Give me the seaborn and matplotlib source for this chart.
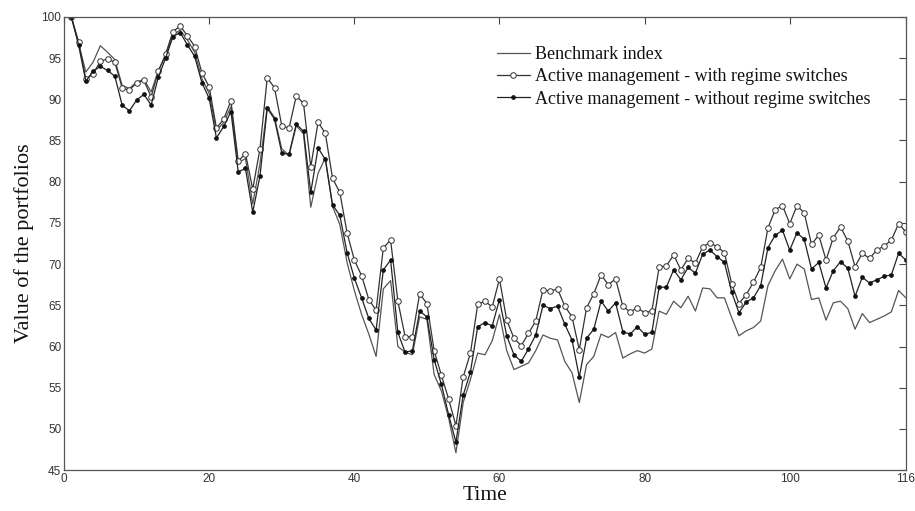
import numpy as np
import matplotlib
matplotlib.use("Agg")
import matplotlib.pyplot as plt
import seaborn as sns

# Donnees (t = 1..116)
time = list(range(1, 117))

benchmark = [
    100, 96.8, 93.3, 94.5, 96.5, 95.7, 94.8, 91.7, 91.3, 92.1,
    92.4, 90.9, 93.5, 95.3, 97.8, 98.4, 97.2, 95.7, 92.5, 90.7,
    86.2, 87.2, 89.1, 82.3, 82.8, 77.3, 82.2, 89.1, 87.8, 84.0,
    83.2, 86.8, 85.8, 76.9, 81.0, 82.9, 77.0, 74.8, 70.2, 66.8,
    63.9, 61.5, 58.8, 67.0, 68.0, 60.0, 59.3, 59.0, 63.6, 63.3,
    56.6, 54.6, 51.3, 47.1, 53.2, 56.0, 59.2, 59.0, 60.7, 63.9,
    59.5, 57.2, 57.6, 58.0, 59.5, 61.4, 61.0, 60.8, 58.2, 56.8,
    53.2, 57.8, 58.8, 61.5, 61.1, 61.7, 58.6, 59.1, 59.5, 59.2,
    59.7, 64.3, 63.9, 65.5, 64.7, 66.1, 64.3, 67.1, 67.0, 65.9,
    65.9, 63.5, 61.3, 61.9, 62.3, 63.1, 67.4, 69.2, 70.6, 68.2,
    70.0, 69.4, 65.7, 65.9, 63.2, 65.3, 65.5, 64.6, 62.1, 64.0,
    62.9, 63.3, 63.7, 64.2, 66.8, 65.9,
]

with_switch = [
    100, 97.0, 92.4, 93.1, 94.6, 94.9, 94.5, 91.4, 91.1, 92.0,
    92.3, 90.3, 93.4, 95.5, 98.2, 98.9, 97.7, 96.4, 93.2, 91.5,
    86.5, 87.6, 89.8, 82.5, 83.4, 79.1, 84.0, 92.6, 91.4, 86.8,
    86.5, 90.4, 89.5, 81.8, 87.2, 85.9, 80.4, 78.7, 73.8, 70.5,
    68.6, 65.7, 64.4, 72.0, 72.9, 65.5, 61.2, 61.2, 66.4, 65.2,
    59.5, 56.5, 53.6, 50.4, 56.3, 59.2, 65.1, 65.5, 64.8, 68.2,
    63.2, 61.0, 60.1, 61.6, 63.1, 66.9, 66.7, 67.0, 64.9, 63.6,
    59.6, 64.7, 66.4, 68.7, 67.5, 68.2, 64.9, 64.2, 64.7, 64.1,
    64.3, 69.6, 69.8, 71.1, 69.3, 70.7, 70.1, 72.1, 72.6, 72.1,
    71.4, 67.6, 65.2, 66.3, 67.8, 69.6, 74.4, 76.6, 77.1, 74.9,
    77.1, 76.2, 72.4, 73.5, 70.5, 73.2, 74.5, 72.8, 69.7, 71.3,
    70.7, 71.7, 72.2, 72.9, 74.9, 73.9,
]

without_switch = [
    100, 96.6, 92.2, 93.4, 94.0, 93.5, 92.8, 89.3, 88.6, 89.9,
    90.6, 89.3, 92.7, 95.0, 97.6, 98.1, 96.6, 95.2, 92.0, 90.1,
    85.3, 86.7, 88.5, 81.2, 81.6, 76.3, 80.7, 88.9, 87.6, 83.5,
    83.3, 87.0, 86.1, 78.7, 84.1, 82.7, 77.2, 75.9, 71.4, 68.3,
    65.9, 63.4, 62.0, 69.3, 70.5, 61.7, 59.3, 59.5, 64.3, 63.6,
    58.4, 55.4, 51.7, 48.4, 54.1, 56.9, 62.4, 62.9, 62.5, 65.7,
    61.3, 59.0, 58.2, 59.7, 61.4, 65.0, 64.6, 64.9, 62.7, 60.8,
    56.3, 61.0, 62.1, 65.5, 64.3, 65.3, 61.8, 61.5, 62.4, 61.5,
    61.7, 67.2, 67.2, 69.3, 68.1, 69.6, 68.9, 71.2, 71.7, 70.9,
    70.2, 66.6, 64.1, 65.4, 65.9, 67.4, 72.0, 73.5, 74.1, 71.7,
    73.8, 73.0, 69.4, 70.2, 67.1, 69.2, 70.3, 69.5, 66.1, 68.4,
    67.7, 68.1, 68.5, 68.7, 71.3, 70.5,
]

x_ticks = [0, 20, 40, 60, 80, 100, 116]
y_ticks = list(range(45, 101, 5))

# Style proche de MATLAB
sns.set_theme(style="white")
plt.rcParams["font.family"] = ["Liberation Sans Narrow", "Liberation Sans", "DejaVu Sans"]
plt.rcParams["xtick.direction"] = "in"
plt.rcParams["ytick.direction"] = "in"

fig = plt.figure(figsize=(9.15, 5.11), dpi=100)
ax = fig.add_axes([0.070, 0.080, 0.920, 0.887])

sns.lineplot(x=time, y=benchmark, ax=ax, color="#555555", linewidth=0.9,
             label="Benchmark index")
sns.lineplot(x=time, y=with_switch, ax=ax, color="#333333", linewidth=0.9,
             marker="o", markersize=4, markerfacecolor="white",
             markeredgecolor="#333333", markeredgewidth=0.7,
             label="Active management - with regime switches")
sns.lineplot(x=time, y=without_switch, ax=ax, color="#222222", linewidth=0.9,
             marker="o", markersize=2.6, markerfacecolor="#111111",
             markeredgecolor="#111111",
             label="Active management - without regime switches")

ax.set_xlim(0, 116)
ax.set_ylim(45, 100)
ax.set_xticks(x_ticks)
ax.set_yticks(y_ticks)
ax.tick_params(axis="both", which="both", top=True, right=True, length=5,
               width=0.8, color="#444444", labelsize=8.5, labelcolor="#333333", pad=2)

for sp in ax.spines.values():
    sp.set_visible(True)
    sp.set_color("#555555")
    sp.set_linewidth(0.9)

serif = ["Liberation Serif", "DejaVu Serif"]
ax.set_xlabel("Time", family=serif, fontsize=15.5, color="#111111", labelpad=1)
ax.set_ylabel("Value of the portfolios", family=serif, fontsize=16,
              color="#111111", labelpad=5)

leg = ax.legend(loc="upper left", bbox_to_anchor=(0.514, 0.936), frameon=False,
                prop={"family": serif, "size": 13}, handlelength=1.85,
                handletextpad=0.25, labelspacing=0.3, borderaxespad=0,
                borderpad=0)
for t in leg.get_texts():
    t.set_color("#111111")

fig.savefig("out.png", dpi=100)
